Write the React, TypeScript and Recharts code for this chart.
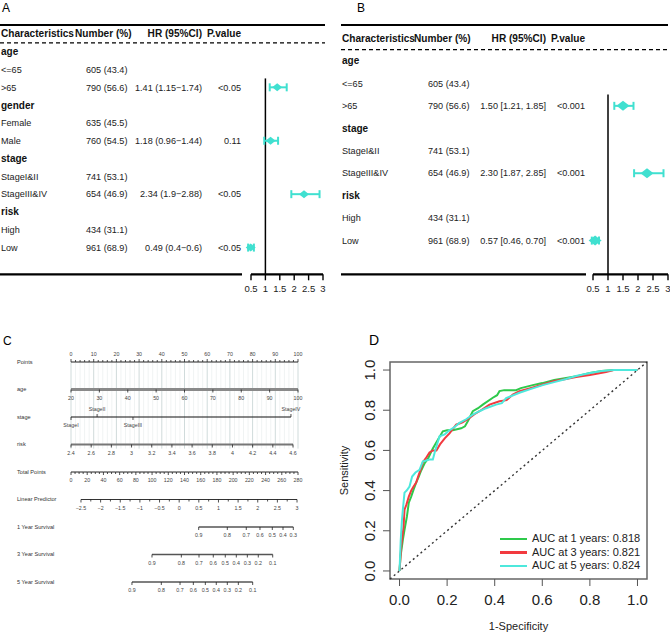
import React from 'react';
import {
  ScatterChart,
  Scatter,
  XAxis,
  YAxis,
  ErrorBar,
  ReferenceLine,
  ReferenceArea,
  LineChart,
  Line,
} from 'recharts';

const FONT = '"Liberation Sans", Arial, Helvetica, sans-serif';
const TURQ = '#40e0d0';

// ---------- A: univariate cox ----------
const aRows = ['age', '<=65', '>65', 'gender', 'Female', 'Male', 'stage', 'StageI&II', 'StageIII&IV', 'risk', 'High', 'Low'];
const aGroups = ['age', 'gender', 'stage', 'risk'];
const aCounts = ['', '605 (43.4)', '790 (56.6)', '', '635 (45.5)', '760 (54.5)', '', '741 (53.1)', '654 (46.9)', '', '434 (31.1)', '961 (68.9)'];
const aHR = [null, null, 1.41, null, null, 1.18, null, null, 2.34, null, null, 0.49];
const aLow = [null, null, 1.15, null, null, 0.96, null, null, 1.9, null, null, 0.4];
const aHigh = [null, null, 1.74, null, null, 1.44, null, null, 2.88, null, null, 0.6];
const aP = ['', '', '<0.05', '', '', '0.11', '', '', '<0.05', '', '', '<0.05'];

// ---------- B: multivariate cox ----------
const bRows = ['age', '<=65', '>65', 'stage', 'StageI&II', 'StageIII&IV', 'risk', 'High', 'Low'];
const bGroups = ['age', 'stage', 'risk'];
const bCounts = ['', '605 (43.4)', '790 (56.6)', '', '741 (53.1)', '654 (46.9)', '', '434 (31.1)', '961 (68.9)'];
const bHR = [null, null, 1.5, null, null, 2.3, null, null, 0.57];
const bLow = [null, null, 1.21, null, null, 1.87, null, null, 0.46];
const bHigh = [null, null, 1.85, null, null, 2.85, null, null, 0.7];
const bP = ['', '', '<0.001', '', '', '<0.001', '', '', '<0.001'];

const hrTicks = [0.5, 1, 1.5, 2, 2.5, 3];

// ---------- C: nomogram ----------
const nomoNames = ['Points', 'age', 'stage', 'risk', 'Total Points', 'Linear Predictor', '1 Year Survival', '3 Year Survival', '5 Year Survival'];
const pointLabels = [0, 10, 20, 30, 40, 50, 60, 70, 80, 90, 100];
const ageLabels = [20, 30, 40, 50, 60, 70, 80, 90, 100];
const stageNames = ['StageI', 'StageII', 'StageIII', 'StageIV'];
const stagePoints = [0, 11.5, 27.3, 96.9];
const riskLabels = [2.4, 2.6, 2.8, 3, 3.2, 3.4, 3.6, 3.8, 4, 4.2, 4.4, 4.6];
const riskMaxPoints = 97.8;
const totalLabels = [0, 20, 40, 60, 80, 100, 120, 140, 160, 180, 200, 220, 240, 260, 280];
const lpLabels = [-2.5, -2, -1.5, -1, -0.5, 0, 0.5, 1, 1.5, 2, 2.5, 3];
const lpTotalAt = [12.3, 278.8]; // total points at lp = -2.5 and lp = 3
const surv1Labels = [0.9, 0.8, 0.7, 0.6, 0.5, 0.4, 0.3];
const surv1Total = [157.5, 192.8, 216.2, 233.1, 248.3, 261.5, 274.2];
const surv3Labels = [0.9, 0.8, 0.7, 0.6, 0.5, 0.4, 0.3, 0.2, 0.1];
const surv3Total = [99.9, 136.1, 157.9, 175.5, 190.3, 203.9, 217.5, 231.0, 248.8];
const surv5Labels = [0.9, 0.8, 0.7, 0.6, 0.5, 0.4, 0.3, 0.2, 0.1];
const surv5Total = [75.2, 111.4, 134.5, 150.9, 165.7, 179.2, 192.8, 206.4, 224.1];

// ---------- D: time dependent ROC ----------
const roc1Fpr = [0, 0.004, 0.014, 0.021, 0.031, 0.039, 0.049, 0.059, 0.07, 0.081, 0.091, 0.105, 0.12, 0.14, 0.16, 0.182, 0.2, 0.224, 0.259, 0.275, 0.287, 0.308, 0.33, 0.35, 0.392, 0.41, 0.42, 0.44, 0.49, 0.51, 0.56, 0.6, 0.65, 0.7, 0.75, 0.8, 0.85, 0.9, 1];
const roc1Sens = [0, 0.07, 0.155, 0.205, 0.27, 0.34, 0.37, 0.405, 0.44, 0.47, 0.5, 0.535, 0.56, 0.61, 0.65, 0.695, 0.7, 0.7, 0.71, 0.72, 0.745, 0.795, 0.81, 0.828, 0.862, 0.875, 0.895, 0.9, 0.9, 0.91, 0.925, 0.935, 0.95, 0.96, 0.97, 0.985, 0.995, 1, 1];
const roc3Fpr = [0, 0.007, 0.017, 0.021, 0.029, 0.039, 0.049, 0.059, 0.07, 0.081, 0.091, 0.098, 0.11, 0.126, 0.14, 0.155, 0.17, 0.19, 0.21, 0.238, 0.265, 0.294, 0.315, 0.336, 0.378, 0.42, 0.45, 0.476, 0.504, 0.55, 0.602, 0.65, 0.7, 0.742, 0.8, 0.868, 0.9, 1];
const roc3Sens = [0, 0.12, 0.22, 0.305, 0.33, 0.37, 0.4, 0.42, 0.44, 0.48, 0.51, 0.54, 0.56, 0.59, 0.6, 0.6, 0.63, 0.66, 0.685, 0.728, 0.74, 0.762, 0.78, 0.795, 0.828, 0.845, 0.85, 0.878, 0.895, 0.91, 0.928, 0.945, 0.955, 0.965, 0.975, 0.99, 1, 1];
const roc5Fpr = [0, 0.005, 0.01, 0.014, 0.021, 0.03, 0.042, 0.053, 0.067, 0.084, 0.098, 0.105, 0.126, 0.14, 0.15, 0.168, 0.19, 0.21, 0.23, 0.252, 0.28, 0.308, 0.336, 0.364, 0.406, 0.43, 0.448, 0.504, 0.55, 0.602, 0.65, 0.7, 0.742, 0.8, 0.85, 0.9, 1];
const roc5Sens = [0, 0.15, 0.25, 0.305, 0.39, 0.4, 0.42, 0.47, 0.49, 0.503, 0.545, 0.547, 0.555, 0.555, 0.6, 0.67, 0.68, 0.7, 0.715, 0.737, 0.755, 0.778, 0.795, 0.81, 0.828, 0.835, 0.86, 0.887, 0.905, 0.925, 0.94, 0.955, 0.97, 0.985, 0.995, 1, 1];
const rocNames = ['AUC at 1 years: 0.818', 'AUC at 3 years: 0.821', 'AUC at 5 years: 0.824'];
const rocColors = ['#2ec94b', '#f23a3f', '#4de8dc'];
const rocTicks = [0, 0.2, 0.4, 0.6, 0.8, 1];

const minus = (s: string) => s.replace('-', '\u2212');

// ---------- forest panel ----------
function ForestPanel({ cfg }: { cfg: any }) {
  const data = cfg.hr
    .map((h: number | null, i: number) =>
      h == null ? null : { row: i, hr: h, err: [h - cfg.lo[i], cfg.hi[i] - h] })
    .filter(Boolean);
  const rowTicks = [cfg.topRow, -1, -0.5, ...cfg.rows.map((_: string, i: number) => i), cfg.bottomRow];
  const c = cfg.col;

  const rowTick = (props: any) => {
    const { y, payload } = props;
    const v = payload.value;
    if (v === cfg.topRow)
      return <line x1={c.ruleX0} x2={c.ruleX1} y1={y} y2={y} stroke="#000" strokeWidth={2.2} />;
    if (v === -0.5)
      return <line x1={c.ruleX0} x2={c.ruleX1} y1={y} y2={y} stroke="#000" strokeWidth={1.3} strokeDasharray="4 3" />;
    if (v === cfg.bottomRow)
      return <line x1={c.ruleX0} x2={c.bottomX1} y1={y} y2={y} stroke="#000" strokeWidth={2.2} />;
    if (v === -1)
      return (
        <g fontWeight="bold" fontSize={10.1} fill="#111">
          <text x={c.label} y={y} dy="0.35em">Characteristics</text>
          <text x={c.hdrCount} y={y} dy="0.35em">Number (%)</text>
          <text x={c.hr} y={y} dy="0.35em" textAnchor="end">HR (95%CI)</text>
          <text x={c.hdrP} y={y} dy="0.35em">P.value</text>
        </g>
      );
    const name = cfg.rows[v];
    if (cfg.groups.includes(name))
      return <text x={c.label} y={y} dy="0.35em" fontWeight="bold" fontSize={10} fill="#111">{name}</text>;
    const h = cfg.hr[v];
    return (
      <g fontSize={9.1} fill="#222">
        <text x={c.label} y={y} dy="0.35em">{name}</text>
        <text x={c.count} y={y} dy="0.35em">{cfg.counts[v]}</text>
        {h != null && <text x={c.hr} y={y} dy="0.35em" textAnchor="end">{cfg.hrText(h, cfg.lo[v], cfg.hi[v])}</text>}
        <text x={c.p} y={y} dy="0.35em" textAnchor="end">{cfg.p[v]}</text>
      </g>
    );
  };

  const [dw, dh] = cfg.diamond;
  const diamond = (props: any) => {
    const { cx, cy } = props;
    return (
      <polygon
        points={`${cx - dw / 2},${cy} ${cx},${cy - dh / 2} ${cx + dw / 2},${cy} ${cx},${cy + dh / 2}`}
        fill={TURQ}
      />
    );
  };

  return (
    <ScatterChart width={335} height={310} margin={{ top: 25, right: cfg.marginRight, bottom: 0, left: 0 }}>
      <XAxis
        type="number"
        dataKey="hr"
        domain={[0.3, 3]}
        ticks={hrTicks}
        interval={0}
        axisLine={false}
        tickLine={{ stroke: '#000', strokeWidth: 1.4 }}
        tickSize={6}
        tickMargin={5}
        height={35.7}
        tick={{ fontSize: 9.5, fill: '#222' }}
      />
      <YAxis
        type="number"
        dataKey="row"
        domain={[cfg.topRow, cfg.bottomRow]}
        reversed
        ticks={rowTicks}
        interval={0}
        width={cfg.yWidth}
        axisLine={false}
        tickLine={false}
        tick={rowTick}
      />
      <ReferenceLine segment={[{ x: 1, y: 1.5 }, { x: 1, y: cfg.bottomRow }]} stroke="#000" strokeWidth={1.5} />
      <ReferenceLine segment={[{ x: 0.5, y: cfg.bottomRow }, { x: 3, y: cfg.bottomRow }]} stroke="#000" strokeWidth={2.2} />
      <Scatter data={data} fill={TURQ} shape={diamond} isAnimationActive={false}>
        <ErrorBar dataKey="err" direction="x" width={4} stroke={TURQ} strokeWidth={2} />
      </Scatter>
    </ScatterChart>
  );
}

const aCfg = {
  rows: aRows, groups: aGroups, counts: aCounts, hr: aHR, lo: aLow, hi: aHigh, p: aP,
  hrText: (h: number, l: number, u: number) => `${h} (${l}\u2212${u})`,
  topRow: -1.5, bottomRow: 12.5, yWidth: 245.24, marginRight: 12, diamond: [10, 8],
  col: { label: 1, count: 86, hr: 202, p: 241, hdrCount: 75, hdrP: 207, ruleX0: 0, ruleX1: 325, bottomX1: 242 },
};
const bCfg = {
  rows: bRows, groups: bGroups, counts: bCounts, hr: bHR, lo: bLow, hi: bHigh, p: bP,
  hrText: (h: number, l: number, u: number) => `${h.toFixed(2)} [${l.toFixed(2)}, ${u.toFixed(2)}]`,
  topRow: -1.6, bottomRow: 9.5, yWidth: 252, marginRight: 2, diamond: [13, 10],
  col: { label: 7, count: 93, hr: 211, p: 250, hdrCount: 79, hdrP: 216, ruleX0: 6, ruleX1: 333, bottomX1: 251 },
};

// ---------- nomogram panel ----------
type NomoTick = { x: number; y: number; label: string; major: boolean; side: 'up' | 'down' };

function buildNomo(): { row: number; ticks: NomoTick[]; stroke: string; width: number }[] {
  const rows: { row: number; ticks: NomoTick[]; stroke: string; width: number }[] = [];
  // Points: minor ticks every 2 points
  const pts: NomoTick[] = [];
  for (let p = 0; p <= 100; p += 2) {
    pts.push({ x: p * 2.8, y: 0, label: pointLabels.includes(p) ? String(p) : '', major: pointLabels.includes(p), side: 'up' });
  }
  rows.push({ row: 0, ticks: pts, stroke: '#222', width: 1 });
  rows.push({
    row: 1,
    ticks: ageLabels.map((a) => ({ x: ((a - 20) / 80) * 100 * 2.8, y: 1, label: String(a), major: true, side: 'down' as const })),
    stroke: '#8a8a8a', width: 3,
  });
  rows.push({
    row: 2,
    ticks: stageNames.map((s, i) => ({ x: stagePoints[i] * 2.8, y: 2, label: s, major: true, side: (i % 2 ? 'up' : 'down') as any })),
    stroke: '#111', width: 1.2,
  });
  rows.push({
    row: 3,
    ticks: riskLabels.map((r) => ({ x: ((r - 2.4) / 2.2) * riskMaxPoints * 2.8, y: 3, label: String(r), major: true, side: 'down' as const })),
    stroke: '#777', width: 1.8,
  });
  const tot: NomoTick[] = [];
  for (let t = 0; t <= 280; t += 5) {
    tot.push({ x: t, y: 4, label: totalLabels.includes(t) ? String(t) : '', major: totalLabels.includes(t), side: 'down' });
  }
  rows.push({ row: 4, ticks: tot, stroke: '#222', width: 1 });
  const lp: NomoTick[] = [];
  const lpScale = (v: number) => lpTotalAt[0] + ((v + 2.5) / 5.5) * (lpTotalAt[1] - lpTotalAt[0]);
  for (let k = 0; k <= 22; k++) {
    const v = -2.5 + k * 0.25;
    const lab = lpLabels.find((l) => Math.abs(l - v) < 1e-9);
    lp.push({ x: lpScale(v), y: 5, label: lab != null ? minus(String(lab)) : '', major: lab != null, side: 'down' });
  }
  rows.push({ row: 5, ticks: lp, stroke: '#333', width: 1.2 });
  const surv = (labels: number[], tot2: number[], row: number) =>
    rows.push({
      row,
      ticks: labels.map((l, i) => ({ x: tot2[i], y: row, label: String(l), major: true, side: 'down' as const })),
      stroke: '#555', width: 1.5,
    });
  surv(surv1Labels, surv1Total, 6);
  surv(surv3Labels, surv3Total, 7);
  surv(surv5Labels, surv5Total, 8);
  return rows;
}

const nomoTickShape = (props: any) => {
  const { cx, cy, payload } = props;
  const up = payload.side === 'up';
  const len = payload.major ? 3 : 2;
  return (
    <g>
      <line x1={cx} x2={cx} y1={cy} y2={up ? cy - len : cy + len} stroke="#222" strokeWidth={0.8} />
      {payload.label !== '' && (
        <text x={cx} y={up ? cy - 8 : cy + 8.5} dy="0.35em" textAnchor="middle" fontSize={5.3} fill="#444">
          {payload.label}
        </text>
      )}
    </g>
  );
};

function NomogramPanel() {
  const rows = buildNomo();
  const gridMinor: number[] = [];
  for (let p = 0; p <= 100; p += 2) gridMinor.push(p);
  const nameTick = (props: any) => {
    const { y, payload } = props;
    return (
      <text x={17} y={y} dy="0.35em" fontSize={5.6} fill="#333">
        {nomoNames[payload.value]}
      </text>
    );
  };
  return (
    <ScatterChart width={335} height={270} margin={{ top: 32, right: 37, bottom: 18, left: 0 }}>
      <XAxis type="number" dataKey="x" domain={[0, 280]} hide />
      <YAxis
        type="number"
        dataKey="y"
        domain={[0, 8]}
        reversed
        ticks={[0, 1, 2, 3, 4, 5, 6, 7, 8]}
        interval={0}
        width={71}
        axisLine={false}
        tickLine={false}
        tick={nameTick}
      />
      {gridMinor.map((p) => (
        <ReferenceLine
          key={`g${p}`}
          segment={[{ x: p * 2.8, y: 0 }, { x: p * 2.8, y: 3.15 }]}
          stroke={pointLabels.includes(p) ? '#d0dbdb' : '#f0f3f3'}
          strokeWidth={1}
        />
      ))}
      {rows.map((r) => (
        <Scatter
          key={`r${r.row}`}
          data={r.ticks}
          line={{ stroke: r.stroke, strokeWidth: r.width }}
          lineJointType="linear"
          shape={nomoTickShape}
          isAnimationActive={false}
        />
      ))}
    </ScatterChart>
  );
}

// ---------- ROC panel ----------
const toPts = (fx: number[], sy: number[]) => fx.map((x, i) => ({ x, y: sy[i] }));

const RocXTick = (props: any) => {
  const { x, y, payload } = props;
  return (
    <text x={x} y={y + 17} textAnchor="middle" fontSize={15} fill="#222">
      {payload.value.toFixed(1)}
    </text>
  );
};
const RocYTick = (props: any) => {
  const { y, payload } = props;
  return (
    <text x={40.5} y={y} transform={`rotate(-90 40.5 ${y})`} textAnchor="middle" fontSize={15} fill="#222">
      {payload.value.toFixed(1)}
    </text>
  );
};
const RocYTitle = (props: any) => {
  const vb = props.viewBox || { x: 0, y: 42, height: 217 };
  const cy = vb.y + vb.height / 2;
  return (
    <text x={13} y={cy} transform={`rotate(-90 13 ${cy})`} textAnchor="middle" fontSize={11} fill="#222">
      Sensitivity
    </text>
  );
};

function RocPanel() {
  const series = [toPts(roc1Fpr, roc1Sens), toPts(roc3Fpr, roc3Sens), toPts(roc5Fpr, roc5Sens)];
  return (
    <LineChart width={335} height={314} margin={{ top: 42, right: 23, bottom: 0, left: 0 }}>
      <XAxis
        type="number"
        dataKey="x"
        domain={[-0.04, 1.04]}
        ticks={rocTicks}
        interval={0}
        axisLine={false}
        tickLine={{ stroke: '#555', strokeWidth: 1 }}
        tickSize={7}
        height={55}
        tick={RocXTick}
        label={{ value: '1-Specificity', position: 'insideBottom', offset: 4, fontSize: 11, fill: '#222' }}
      />
      <YAxis
        type="number"
        domain={[-0.04, 1.04]}
        ticks={rocTicks}
        interval={0}
        axisLine={false}
        tickLine={{ stroke: '#555', strokeWidth: 1 }}
        tickSize={7}
        width={55}
        tick={RocYTick}
        label={<RocYTitle />}
      />
      <ReferenceArea x1={-0.04} x2={1.04} y1={-0.04} y2={1.04} fill="none" stroke="#666" strokeWidth={1.5} />
      <ReferenceLine
        segment={[{ x: -0.04, y: -0.04 }, { x: 1.04, y: 1.04 }]}
        stroke="#333"
        strokeWidth={1.4}
        strokeDasharray="2 3"
      />
      {series.map((d, i) => (
        <Line
          key={rocNames[i]}
          data={d}
          dataKey="y"
          name={rocNames[i]}
          type="linear"
          stroke={rocColors[i]}
          strokeWidth={2}
          dot={false}
          isAnimationActive={false}
        />
      ))}
    </LineChart>
  );
}

export default function App() {
  return (
    <div style={{ position: 'absolute', left: 0, top: 0, width: 670, height: 634, background: '#fff', fontFamily: FONT, overflow: 'hidden' }}>
      <div style={{ position: 'absolute', left: 0, top: 0 }}>
        <ForestPanel cfg={aCfg} />
      </div>
      <div style={{ position: 'absolute', left: 335, top: 0 }}>
        <ForestPanel cfg={bCfg} />
      </div>
      <div style={{ position: 'absolute', left: 0, top: 330 }}>
        <NomogramPanel />
      </div>
      <div style={{ position: 'absolute', left: 335, top: 320 }}>
        <RocPanel />
      </div>
      <div style={{ position: 'absolute', left: 2, top: 1, fontSize: 12, lineHeight: '14px' }}>A</div>
      <div style={{ position: 'absolute', left: 357, top: 1, fontSize: 12, lineHeight: '14px' }}>B</div>
      <div style={{ position: 'absolute', left: 3, top: 334, fontSize: 12, lineHeight: '14px' }}>C</div>
      <div style={{ position: 'absolute', left: 369, top: 332, fontSize: 14, lineHeight: '16px' }}>D</div>
      <div style={{ position: 'absolute', left: 500, top: 532, fontSize: 11, color: '#222' }}>
        {rocNames.map((n, i) => (
          <div key={n} style={{ display: 'flex', alignItems: 'center', height: 13.5 }}>
            <div style={{ width: 27, height: 2.5, background: rocColors[i], marginRight: 5 }} />
            <span style={{ lineHeight: '13.5px' }}>{n}</span>
          </div>
        ))}
      </div>
    </div>
  );
}
